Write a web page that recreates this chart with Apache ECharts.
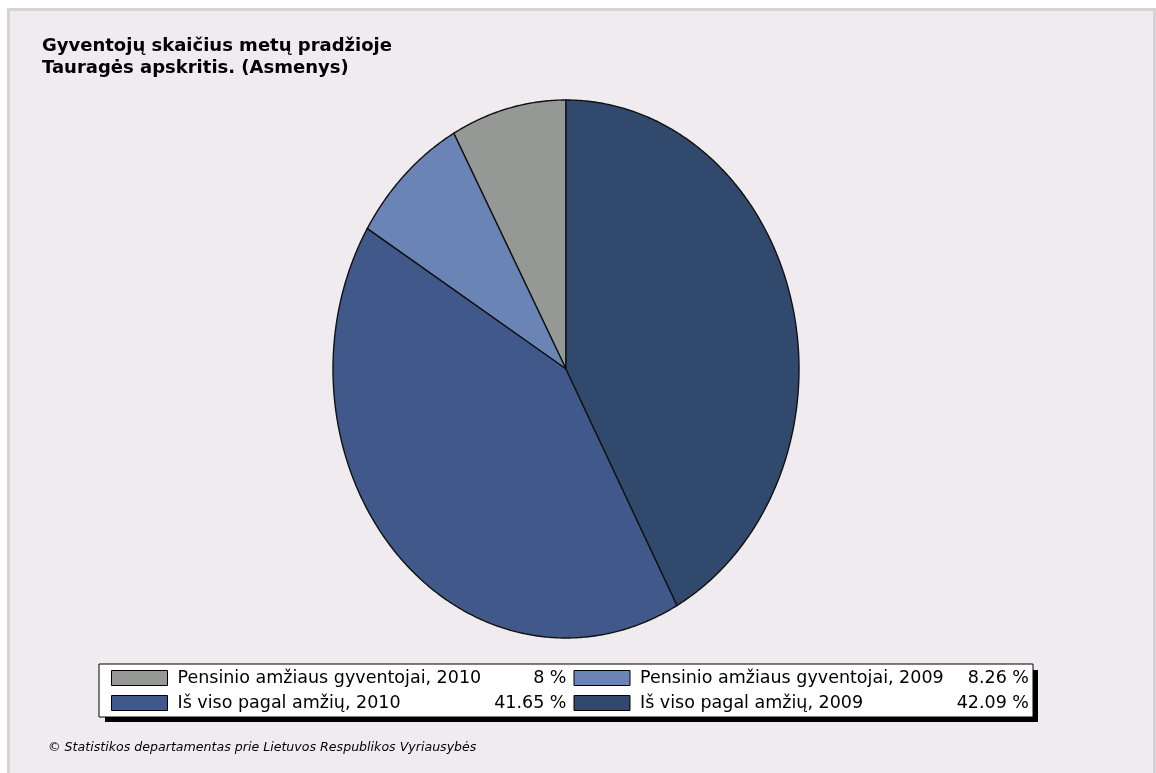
<!DOCTYPE html>
<html>
<head>
<meta charset="utf-8">
<script src="https://cdn.jsdelivr.net/npm/echarts@6/dist/echarts.min.js"></script>
<style>
  html, body { margin: 0; padding: 0; background: #ffffff; overflow: hidden; }
  #chart { width: 1156px; height: 773px; }
</style>
</head>
<body>
<div id="chart"></div>
<script>
// Population at the start of the year, Tauragė county (persons), share by group
const categories = [
  'Pensinio amžiaus gyventojai, 2010',
  'Pensinio amžiaus gyventojai, 2009',
  'Iš viso pagal amžių, 2010',
  'Iš viso pagal amžių, 2009'
];
const shares = [8, 8.26, 41.65, 42.09];
const sliceColors = ['#959894', '#6a84b5', '#41598a', '#31496c'];
const titleLines = ['Gyventojų skaičius metų pradžioje', 'Tauragės apskritis. (Asmenys)'];
const footerText = '© Statistikos departamentas prie Lietuvos Respublikos Vyriausybės';

const total = shares.reduce((a, b) => a + b, 0);

// Elliptical pie geometry (pixels)
const PIE = { cx: 566, cy: 369, rx: 233, ry: 269 };
// Legend box placement (pixels)
const LEGEND_BOX = { x: 99, y: 664, w: 933, h: 52, shadow: 6 };

function formatShare(v) {
  return String(v) + ' %';
}

// Slices run counter-clockwise starting from 12 o'clock
function makeSliceRenderer(k) {
  return function (params, api) {
    const before = shares.slice(0, k).reduce((a, b) => a + b, 0);
    const value = api.value(0);
    const a0 = before / total * Math.PI * 2;
    const a1 = (before + value) / total * Math.PI * 2;
    const steps = Math.max(2, Math.ceil((a1 - a0) / (Math.PI / 360)));
    const pts = [[PIE.cx, PIE.cy]];
    for (let i = 0; i <= steps; i++) {
      const t = a0 + (a1 - a0) * i / steps;
      pts.push([PIE.cx - PIE.rx * Math.sin(t), PIE.cy - PIE.ry * Math.cos(t)]);
    }
    return {
      type: 'polygon',
      shape: { points: pts },
      style: { fill: sliceColors[k], stroke: '#111111', lineWidth: 1.4 }
    };
  };
}

const series = categories.map((name, k) => ({
  type: 'custom',
  name: name,
  coordinateSystem: 'none',
  silent: true,
  itemStyle: { color: sliceColors[k], borderColor: '#000000', borderWidth: 1 },
  renderItem: makeSliceRenderer(k),
  data: [[shares[k]]]
}));

const chart = echarts.init(document.getElementById('chart'), null, { renderer: 'canvas' });

const legendFont = 17.5;

chart.setOption({
  animation: false,
  backgroundColor: '#ffffff',
  graphic: [
    {
      type: 'rect',
      z: -10,
      shape: { x: 8.5, y: 9.5, width: 1146, height: 1000 },
      style: { fill: '#efebef', stroke: '#d6d2d6', lineWidth: 3 }
    },
    {
      // drop shadow behind the legend box
      type: 'rect',
      z: -5,
      shape: {
        x: LEGEND_BOX.x + LEGEND_BOX.shadow,
        y: LEGEND_BOX.y + LEGEND_BOX.shadow,
        width: LEGEND_BOX.w,
        height: LEGEND_BOX.h
      },
      style: { fill: '#000000' }
    },
    {
      type: 'text',
      left: 48,
      top: 741,
      style: {
        text: footerText,
        fill: '#000000',
        font: 'italic 12.6px "DejaVu Sans"'
      }
    }
  ],
  title: {
    text: titleLines.join('\n'),
    left: 42,
    top: 35,
    padding: 0,
    textStyle: {
      fontFamily: 'DejaVu Sans',
      fontWeight: 'bold',
      fontSize: 18,
      lineHeight: 22,
      color: '#000000'
    }
  },
  legend: {
    data: categories,
    left: LEGEND_BOX.x,
    top: LEGEND_BOX.y,
    width: 920,
    orient: 'horizontal',
    padding: [5, 4, 5, 12],
    itemWidth: 56,
    itemHeight: 15,
    itemGap: 7,
    icon: 'rect',
    selectedMode: false,
    backgroundColor: '#ffffff',
    borderColor: '#000000',
    borderWidth: 1,
    borderRadius: 0,
    itemStyle: { borderColor: '#000000', borderWidth: 1 },
    formatter: function (name) {
      const i = categories.indexOf(name);
      return '{s| }{n|' + name + '}{p|' + formatShare(shares[i]) + '}';
    },
    textStyle: {
      color: '#000000',
      fontFamily: 'DejaVu Sans',
      fontSize: legendFont,
      lineHeight: 17,
      rich: {
        s: { width: 5, fontSize: legendFont, lineHeight: 17 },
        n: { width: 310, fontFamily: 'DejaVu Sans', fontSize: legendFont, lineHeight: 17, color: '#000000' },
        p: { width: 79, align: 'right', fontFamily: 'DejaVu Sans', fontSize: legendFont, lineHeight: 17, color: '#000000' }
      }
    }
  },
  series: series
});
</script>
</body>
</html>
